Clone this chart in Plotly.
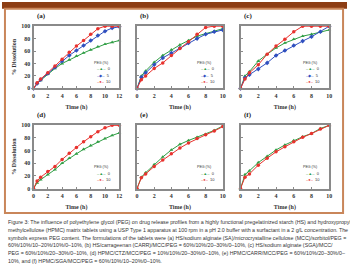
import plotly.graph_objects as go

W, H = 350, 272

# ---------------- data ----------------
a_x = [0, 0.5, 1, 2, 3, 4, 5, 6, 7, 8, 9, 10, 11, 12]
a_peg0 = [0, 8, 13, 23, 32, 40, 46, 52, 57, 62, 67, 71, 74, 77]
a_peg5 = [0, 8, 14, 24, 34, 44, 53, 61, 69, 77, 85, 92, 97, 99]
a_peg10 = [0, 9, 15, 25, 36, 47, 58, 68, 77, 87, 96, 100, 100, 100]

b_x = [0, 0.5, 1, 2, 3, 4, 5, 6, 7, 8, 9, 10]
b_peg0 = [0, 20, 28, 42, 53, 62, 70, 77, 84, 88, 92, 96]
b_peg5 = [0, 18, 25, 38, 49, 57, 65, 73, 80, 87, 91, 94]
b_peg10 = [0, 14, 20, 32, 41, 53, 64, 75, 87, 98, 100, 100]

c_x = [0, 0.5, 1, 2, 3, 4, 5, 6, 7, 8, 9, 10]
c_peg0 = [0, 20, 27, 44, 55, 65, 73, 79, 84, 87, 91, 94]
c_peg5 = [0, 17, 22, 31, 41, 53, 61, 69, 76, 83, 91, 100]
c_peg10 = [0, 15, 25, 38, 55, 68, 79, 91, 100, 100, 100, 100]

d_x = [0, 0.5, 1, 2, 3, 4, 5, 6, 7, 8, 9, 10, 11, 12]
d_peg0 = [0, 9, 14, 22, 30, 40, 48, 55, 62, 68, 74, 79, 84, 88]
d_peg10 = [0, 12, 18, 27, 35, 46, 56, 65, 74, 82, 90, 96, 100, 100]

e_x = [0, 0.5, 1, 2, 3, 4, 5, 6, 7, 8, 9, 10]
e_peg0 = [0, 18, 25, 38, 50, 61, 70, 76, 81, 86, 92, 99]
e_peg10 = [0, 17, 23, 35, 45, 55, 64, 72, 79, 85, 91, 98]

f_x = [0, 0.5, 1, 2, 3, 4, 5, 6, 7, 8, 9, 10]
f_peg0 = [0, 22, 28, 41, 51, 61, 69, 76, 82, 87, 95, 100]
f_peg10 = [0, 18, 23, 37, 48, 58, 66, 74, 81, 87, 94, 100]

panel_labels = ["(a)", "(b)", "(c)", "(d)", "(e)", "(f)"]
x_max = [12, 10, 10, 12, 10, 10]
y_ticks = [0, 20, 40, 60, 80, 100]
x_title = "Time (h)"
y_title = "% Dissolution"
legend_title = "PEG (%)"

caption_lines = [
    "Figure 3: The influence of polyethylene glycol (PEG) on drug release profiles from a highly functional pregelatinized starch (HS) and hydroxypropyl",
    "methylcellulose (HPMC) matrix tablets using a USP Type 1 apparatus at 100 rpm in a pH 2.0 buffer with a surfactant in a 2 g/L concentration. The",
    "symbols express PEG content. The formulations of the tablets were (a) HS/sodium alginate (SA)/microcrystalline cellulose (MCC)/sorbitol/PEG =",
    "60%/10%/10\u201320%/10%/0\u201310%, (b) HS/carrageenan (CARR)/MCC/PEG = 60%/10%/20\u201330%/0\u201310%, (c) HS/sodium alginate (SGA)/MCC/",
    "PEG = 60%/10%/20\u201330%/0\u201310%, (d) HPMC/CTZ/MCC/PEG = 10%/10%/20\u201330%/0\u201310%, (e) HPMC/CARR/MCC/PEG = 60%/10%/20\u201330%/0\u2013",
    "10%, and (f) HPMC/SGA/MCC/PEG = 60%/10%/10\u201320%/0\u201310%.",
]

GREEN, BLUE, RED = "#2f9e44", "#2f4fbf", "#e8322e"
series = [
    (a_x, [("0", a_peg0, GREEN, "triangle-up"), ("5", a_peg5, BLUE, "diamond"), ("10", a_peg10, RED, "circle")]),
    (b_x, [("0", b_peg0, GREEN, "triangle-up"), ("5", b_peg5, BLUE, "diamond"), ("10", b_peg10, RED, "circle")]),
    (c_x, [("0", c_peg0, GREEN, "triangle-up"), ("5", c_peg5, BLUE, "diamond"), ("10", c_peg10, RED, "circle")]),
    (d_x, [("0", d_peg0, GREEN, "triangle-up"), ("10", d_peg10, RED, "circle")]),
    (e_x, [("0", e_peg0, GREEN, "triangle-up"), ("10", e_peg10, RED, "circle")]),
    (f_x, [("0", f_peg0, GREEN, "triangle-up"), ("10", f_peg10, RED, "circle")]),
]

# ---------------- layout geometry (pixels) ----------------
col_px = [(32, 119), (137, 224), (242, 332)]
row_px = [(24, 88), (125, 190)]

fig = go.Figure()
layout = dict(
    width=W, height=H,
    margin=dict(l=0, r=0, t=0, b=0),
    paper_bgcolor="white", plot_bgcolor="white",
    showlegend=False,
    shapes=[], annotations=[],
)

AXFONT = dict(family="Liberation Serif", size=6, color="#333", weight="bold")

for i, (xs, lines) in enumerate(series):
    r, c = divmod(i, 3)
    x0, x1 = col_px[c]
    y0, y1 = row_px[r]
    xa = "xaxis" if i == 0 else f"xaxis{i+1}"
    ya = "yaxis" if i == 0 else f"yaxis{i+1}"
    xr = "x" if i == 0 else f"x{i+1}"
    yr = "y" if i == 0 else f"y{i+1}"
    layout[xa] = dict(
        domain=[x0 / W, x1 / W], anchor=yr, range=[0, x_max[i]],
        tickmode="array", tickvals=list(range(0, x_max[i] + 1, 2)),
        showline=True, mirror=True, linecolor="#8a8a8a", linewidth=2,
        showgrid=False, zeroline=False, ticks="inside", ticklen=2, tickcolor="#8a8a8a",
        tickfont=AXFONT,
        title=dict(text=x_title, font=dict(family="Liberation Serif", size=6, color="#333", weight="bold"), standoff=7),
    )
    layout[ya] = dict(
        domain=[1 - y1 / H, 1 - y0 / H], anchor=xr, range=[0, 101],
        tickmode="array", tickvals=y_ticks,
        showticklabels=(c == 0),
        showline=True, mirror=True, linecolor="#8a8a8a", linewidth=2,
        showgrid=False, zeroline=False, ticks="inside", ticklen=2, tickcolor="#8a8a8a",
        tickfont=AXFONT,
    )
    if c == 0:
        layout[ya]["title"] = dict(text=y_title, font=dict(family="Liberation Serif", size=6, color="#333", weight="bold"), standoff=4)

    for name, ys, col, sym in lines:
        fig.add_trace(go.Scatter(
            x=xs, y=ys, name=name, xaxis=xr, yaxis=yr,
            mode="lines+markers", cliponaxis=False,
            line=dict(color=col, width=1),
            marker=dict(color=col, size=3.5, symbol=sym),
        ))

    # panel label
    layout["annotations"].append(dict(
        text=panel_labels[i], xref="paper", yref="paper",
        x=(x0 + 1) / W, y=1 - (y0 - 4) / H, xanchor="left", yanchor="bottom",
        showarrow=False, font=dict(family="Liberation Serif", size=7, color="#222", weight="bold"),
    ))

    # legend (drawn as text)
    n = len(lines)
    ty = 0.41 if n == 3 else 0.34
    layout["annotations"].append(dict(
        text=legend_title, xref=f"{xr} domain", yref=f"{yr} domain",
        x=0.68, y=ty, xanchor="left", yanchor="middle", showarrow=False,
        font=dict(family="Liberation Sans", size=3.6, color="#333"),
    ))
    for k, (name, ys, col, sym) in enumerate(lines):
        glyph = {"triangle-up": "\u25b2", "diamond": "\u25c6", "circle": "\u25cf"}[sym]
        layout["annotations"].append(dict(
            text=f"<span style='color:{col}'>\u2013{glyph}\u2013</span>  {name}",
            xref=f"{xr} domain", yref=f"{yr} domain",
            x=0.72, y=ty - 0.10 * (k + 1), xanchor="left", yanchor="middle", showarrow=False,
            font=dict(family="Liberation Sans", size=4, color="#333"),
        ))

# decorative frame: top brown bar and border box
layout["shapes"].append(dict(type="rect", xref="paper", yref="paper",
                             x0=0, x1=1, y0=1 - 7 / H, y1=1,
                             fillcolor="#8c3d14", line=dict(width=0), layer="below"))
layout["shapes"].append(dict(type="rect", xref="paper", yref="paper",
                             x0=3 / W, x1=346 / W, y0=1 - 215 / H, y1=1 - 7 / H,
                             fillcolor="rgba(0,0,0,0)", line=dict(color="#c9865a", width=2), layer="below"))

# caption
for j, line in enumerate(caption_lines):
    layout["annotations"].append(dict(
        text=line, xref="paper", yref="paper",
        x=4 / W, y=1 - (224 + 8 * j) / H, xanchor="left", yanchor="middle",
        showarrow=False, font=dict(family="Liberation Sans", size=5.3, color="#333"),
    ))

fig.update_layout(**layout)
fig.write_html("out.html")
